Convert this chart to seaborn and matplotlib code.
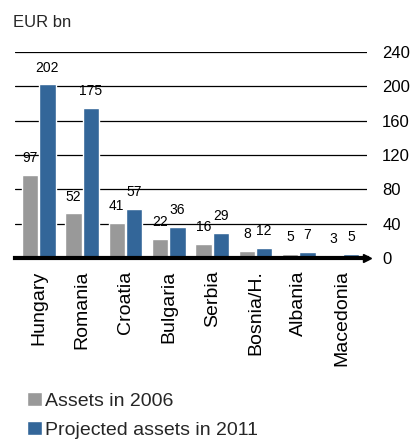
import seaborn as sns
import matplotlib.pyplot as plt
import pandas as pd

countries = ["Hungary", "Romania", "Croatia", "Bulgaria", "Serbia",
             "Bosnia/H.", "Albania", "Macedonia"]
assets_2006 = [97, 52, 41, 22, 16, 8, 5, 3]
assets_2011 = [202, 175, 57, 36, 29, 12, 7, 5]
series_names = ["Assets in 2006", "Projected assets in 2011"]
y_ticks = [0, 40, 80, 120, 160, 200, 240]

df = pd.DataFrame({
    "country": countries * 2,
    "value": assets_2006 + assets_2011,
    "series": [series_names[0]] * len(countries) + [series_names[1]] * len(countries),
})

sns.set_theme(style="white")
plt.rcParams["font.family"] = ["Liberation Sans", "DejaVu Sans"]

fig = plt.figure(figsize=(4.15, 4.47), dpi=100)
ax = fig.add_axes([0.036, 0.423, 0.848, 0.461])

# grid lines sit behind the bars
for t in y_ticks[1:]:
    ax.axhline(t, color="black", lw=0.9, zorder=0)

sns.barplot(data=df, x="country", y="value", hue="series",
            palette=["#999999", "#336699"], width=0.8, gap=0.05,
            saturation=1, ax=ax, zorder=2, legend=True)

for cont in ax.containers:
    ax.bar_label(cont, padding=7, fontsize=10, color="black")

ax.set_ylim(0, 240)
ax.set_xlim(-0.55, 7.57)
ax.set_yticks(y_ticks)
ax.yaxis.tick_right()
ax.tick_params(axis="y", length=0, pad=11, labelsize=12, colors="black")
ax.tick_params(axis="x", length=0, pad=9, labelsize=14, colors="black")
plt.setp(ax.get_xticklabels(), rotation=90)
ax.set_xlabel("")
ax.set_ylabel("")

for s in ["top", "left", "right"]:
    ax.spines[s].set_visible(False)
ax.spines["bottom"].set_color("black")
ax.spines["bottom"].set_linewidth(3)
ax.spines["bottom"].set_zorder(3)
ax.plot([1.0], [0], marker=">", color="black", markersize=6,
        transform=ax.transAxes, clip_on=False, zorder=4)

fig.text(0.031, 0.95, "EUR bn", fontsize=12, ha="left", va="center")

handles, labels = ax.get_legend_handles_labels()
ax.get_legend().remove()
fig.legend(handles, labels, loc="upper left", bbox_to_anchor=(0.066, 0.123),
           frameon=False, fontsize=14, handlelength=0.75, handleheight=0.75,
           handletextpad=0.15, labelspacing=0.55, borderaxespad=0, borderpad=0)

fig.savefig("out.png", dpi=100)
